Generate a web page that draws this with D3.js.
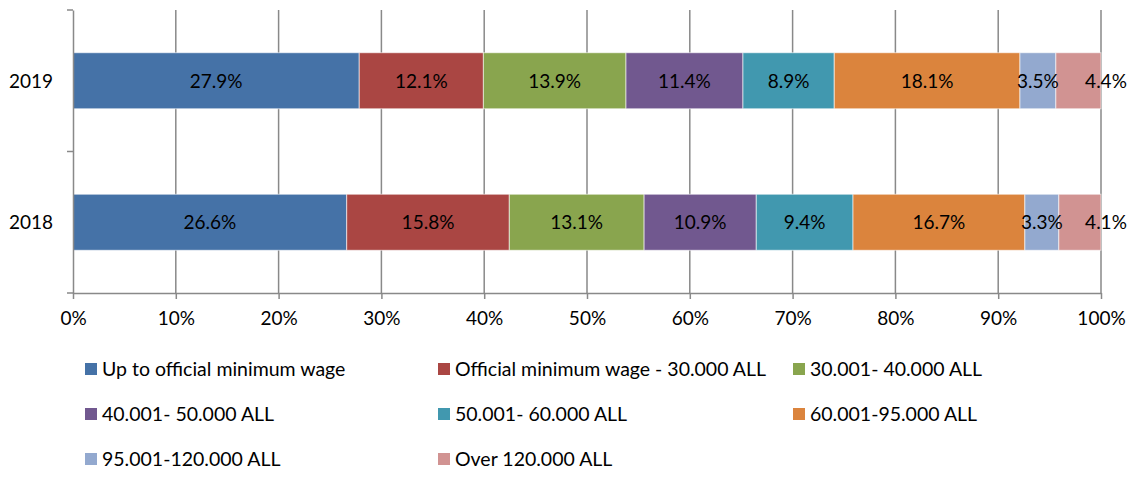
<!DOCTYPE html>
<html>
<head>
<meta charset="utf-8">
<script src="https://cdn.jsdelivr.net/npm/d3@7"></script>
<style>
  body { margin: 0; background: #fff; }
  text { font-family: Lato, "Open Sans", sans-serif; fill: #000; }
</style>
</head>
<body>
<svg id="chart" width="1134" height="477"></svg>
<script>
const years = ['2019', '2018'];
const seriesNames = [
  'Up to official minimum wage',
  'Official minimum wage - 30.000 ALL',
  '30.001- 40.000 ALL',
  '40.001- 50.000 ALL',
  '50.001- 60.000 ALL',
  '60.001-95.000 ALL',
  '95.001-120.000 ALL',
  'Over 120.000 ALL'
];
const values2019 = [27.9, 12.1, 13.9, 11.4, 8.9, 18.1, 3.5, 4.4];
const values2018 = [26.6, 15.8, 13.1, 10.9, 9.4, 16.7, 3.3, 4.1];
const colors = ['#4572A7', '#AA4643', '#89A54E', '#71588F', '#4198AF', '#DB843D', '#93A9CF', '#D19392'];
const xTicks = [0, 0.1, 0.2, 0.3, 0.4, 0.5, 0.6, 0.7, 0.8, 0.9, 1];

const rows = [
  {year: years[0], values: values2019},
  {year: years[1], values: values2018}
];

const plotLeft = 73, plotRight = 1101, plotTop = 10, plotBottom = 293;
const gridColor = '#898989';
const fontSize = '19px';

const svg = d3.select('#chart');

const x = d3.scaleLinear().domain([0, 1]).range([plotLeft, plotRight]);
const y = d3.scaleBand()
  .domain(years)
  .range([plotTop, plotBottom])
  .paddingInner(0.604)
  .paddingOuter(0.302);

// vertical grid lines
svg.append('g')
  .selectAll('line')
  .data(xTicks.slice(1))
  .join('line')
  .attr('x1', d => x(d)).attr('x2', d => x(d))
  .attr('y1', plotTop).attr('y2', plotBottom)
  .attr('stroke', gridColor)
  .attr('stroke-width', 1.5);

// stacked segments, normalised to 100%
rows.forEach(row => {
  const total = d3.sum(row.values);
  let acc = 0;
  const segs = row.values.map((v, i) => {
    const s = {start: acc / total, end: (acc + v) / total, v, i};
    acc += v;
    return s;
  });
  const g = svg.append('g');
  g.selectAll('rect')
    .data(segs)
    .join('rect')
    .attr('x', d => x(d.start))
    .attr('y', y(row.year))
    .attr('width', d => x(d.end) - x(d.start))
    .attr('height', y.bandwidth())
    .attr('fill', d => colors[d.i])
    .attr('stroke', 'rgba(255,255,255,0.6)')
    .attr('stroke-width', 1);
  g.selectAll('text')
    .data(segs)
    .join('text')
    .attr('x', d => d.i === segs.length - 1 ? x(d.end) + 5 : (x(d.start) + x(d.end)) / 2)
    .attr('y', y(row.year) + y.bandwidth() / 2)
    .attr('dy', '0.36em')
    .attr('text-anchor', 'middle')
    .style('font-size', fontSize)
    .text(d => d.v.toFixed(1) + '%');
});

// y axis
const yAxis = d3.axisLeft(y).tickSize(0).tickPadding(20);
const yG = svg.append('g').attr('transform', `translate(${plotLeft},0)`).call(yAxis);
yG.select('.domain').attr('stroke', gridColor).attr('stroke-width', 1.5);
yG.selectAll('text').style('font-size', fontSize).attr('dy', '0.36em');
// band boundary ticks
svg.append('g')
  .selectAll('line')
  .data([plotTop, (plotTop + plotBottom) / 2, plotBottom])
  .join('line')
  .attr('x1', plotLeft - 6).attr('x2', plotLeft)
  .attr('y1', d => d).attr('y2', d => d)
  .attr('stroke', gridColor)
  .attr('stroke-width', 1.5);

// x axis
const xAxis = d3.axisBottom(x)
  .tickValues(xTicks)
  .tickSizeInner(6)
  .tickSizeOuter(0)
  .tickPadding(13)
  .tickFormat(d3.format('.0%'));
const xG = svg.append('g').attr('transform', `translate(0,${plotBottom})`).call(xAxis);
xG.select('.domain').attr('stroke', gridColor).attr('stroke-width', 1.5);
xG.selectAll('line').attr('stroke', gridColor).attr('stroke-width', 1.5);
xG.selectAll('text').style('font-size', fontSize);

// legend
const legendCols = [85, 438, 793];
const legendRows = [369, 414, 459];
const legend = svg.append('g')
  .selectAll('g')
  .data(seriesNames)
  .join('g')
  .attr('transform', (d, i) => `translate(${legendCols[i % 3]},${legendRows[Math.floor(i / 3)]})`);
legend.append('rect')
  .attr('x', 0).attr('y', -6)
  .attr('width', 12).attr('height', 12)
  .attr('fill', (d, i) => colors[i]);
legend.append('text')
  .attr('x', 17)
  .attr('dy', '0.36em')
  .style('font-size', '19.5px')
  .text(d => d);
</script>
</body>
</html>
